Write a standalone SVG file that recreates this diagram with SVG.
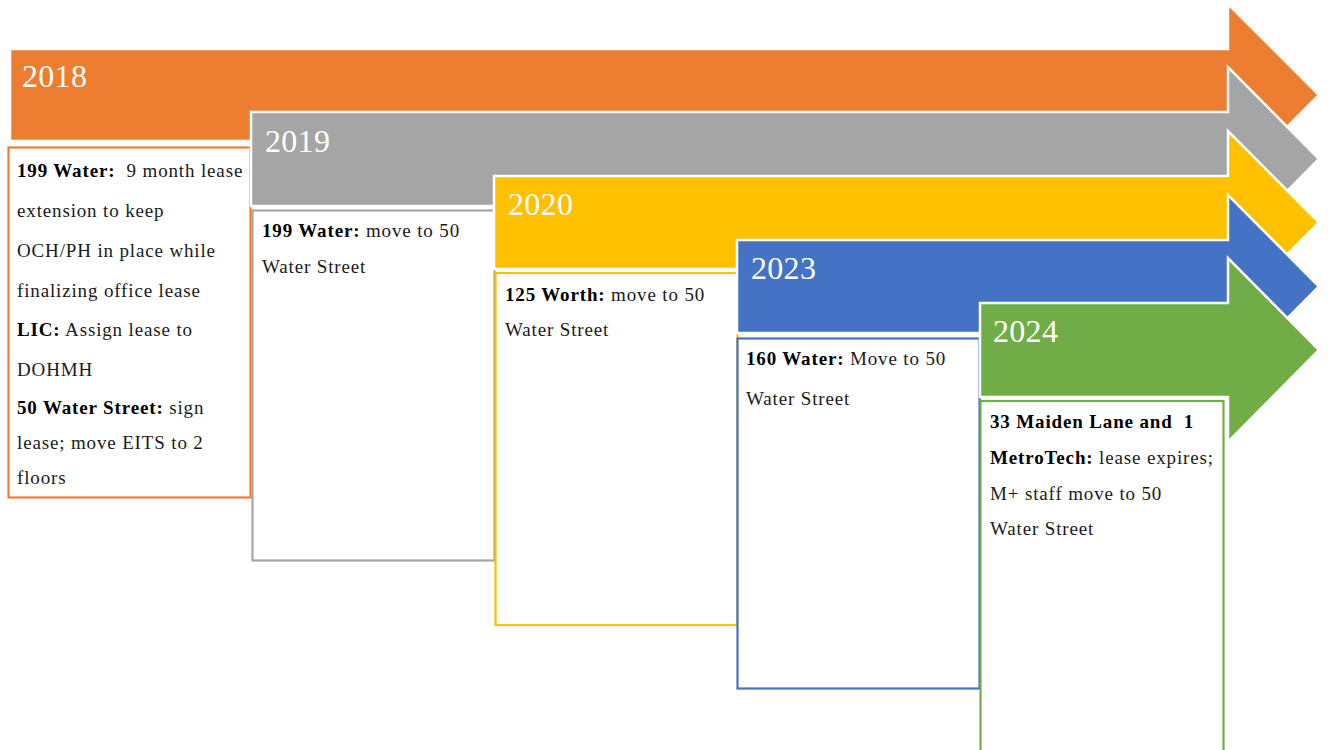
<svg xmlns="http://www.w3.org/2000/svg" width="1331" height="750" viewBox="0 0 1331 750">
<style>
.arrow{stroke:#ffffff;stroke-width:2.5;stroke-linejoin:miter}
.box{fill:#ffffff;stroke-width:2.2}
.yr{font-family:"Liberation Serif","DejaVu Serif",serif;font-size:32px;fill:#ffffff;letter-spacing:0.3px}
.tx{font-family:"Liberation Serif","DejaVu Serif",serif;font-size:19px;fill:#1a1a1a;letter-spacing:0.85px;white-space:pre}
.b{font-weight:bold;fill:#000000}
</style>
<rect width="1331" height="750" fill="#ffffff"/>
<g id="y2018">
<path class="arrow" fill="#ED7D31" d="M10,49 H1228 V4 L1319,95 L1228,186 V141 H10 Z"/>
<text class="yr" x="22" y="87">2018</text>
</g>
<g id="box2018">
<rect class="box" stroke="#ED7D31" x="8.5" y="147.5" width="242" height="350"/>
<text class="tx" x="17" y="177" xml:space="preserve"><tspan class="b">199 Water:</tspan>  9 month lease</text>
<text class="tx" x="17" y="217">extension to keep</text>
<text class="tx" x="17" y="256.5">OCH/PH in place while</text>
<text class="tx" x="17" y="296.5">finalizing office lease</text>
<text class="tx" x="17" y="336" xml:space="preserve"><tspan class="b">LIC:</tspan> Assign lease to</text>
<text class="tx" x="17" y="375.5">DOHMH</text>
<text class="tx" x="17" y="413.5" xml:space="preserve"><tspan class="b">50 Water Street:</tspan> sign</text>
<text class="tx" x="17" y="448.5">lease; move EITS to 2</text>
<text class="tx" x="17" y="483.5">floors</text>
</g>
<g id="y2019">
<path class="arrow" fill="#A5A5A5" d="M251,112 H1228 V67 L1319,159 L1228,251 V206 H251 Z"/>
<text class="yr" x="265" y="152">2019</text>
</g>
<g id="box2019">
<rect class="box" stroke="#A5A5A5" x="252.5" y="210.5" width="242" height="350"/>
<text class="tx" x="262" y="237" xml:space="preserve"><tspan class="b">199 Water:</tspan> move to 50</text>
<text class="tx" x="262" y="273">Water Street</text>
</g>
<g id="y2020">
<path class="arrow" fill="#FFC000" d="M494,176 H1228 V131 L1319,222.5 L1228,314 V269 H494 Z"/>
<text class="yr" x="508" y="215">2020</text>
</g>
<g id="box2020">
<rect class="box" stroke="#FFC000" x="495.5" y="273" width="242" height="352"/>
<text class="tx" x="505" y="301" xml:space="preserve"><tspan class="b">125 Worth:</tspan> move to 50</text>
<text class="tx" x="505" y="336">Water Street</text>
</g>
<g id="y2023">
<path class="arrow" fill="#4472C4" d="M737,240 H1228 V195 L1319,286.5 L1228,378 V333 H737 Z"/>
<text class="yr" x="751" y="279">2023</text>
</g>
<g id="box2023">
<rect class="box" stroke="#4472C4" x="737.5" y="338.5" width="242" height="350"/>
<text class="tx" x="746" y="364.5" xml:space="preserve"><tspan class="b">160 Water:</tspan> Move to 50</text>
<text class="tx" x="746" y="405">Water Street</text>
</g>
<g id="y2024">
<path class="arrow" fill="#70AD47" d="M980,303 H1228 V258 L1319,350 L1228,442 V397 H980 Z"/>
<text class="yr" x="993" y="342">2024</text>
</g>
<g id="box2024">
<rect class="box" stroke="#70AD47" x="980.5" y="401" width="243" height="360"/>
<text class="tx" x="990" y="428" xml:space="preserve"><tspan class="b">33 Maiden Lane and  1</tspan></text>
<text class="tx" x="990" y="463.5" xml:space="preserve"><tspan class="b">MetroTech:</tspan> lease expires;</text>
<text class="tx" x="990" y="499.5">M+ staff move to 50</text>
<text class="tx" x="990" y="534.5">Water Street</text>
</g>
<g id="connectors"/>
</svg>
